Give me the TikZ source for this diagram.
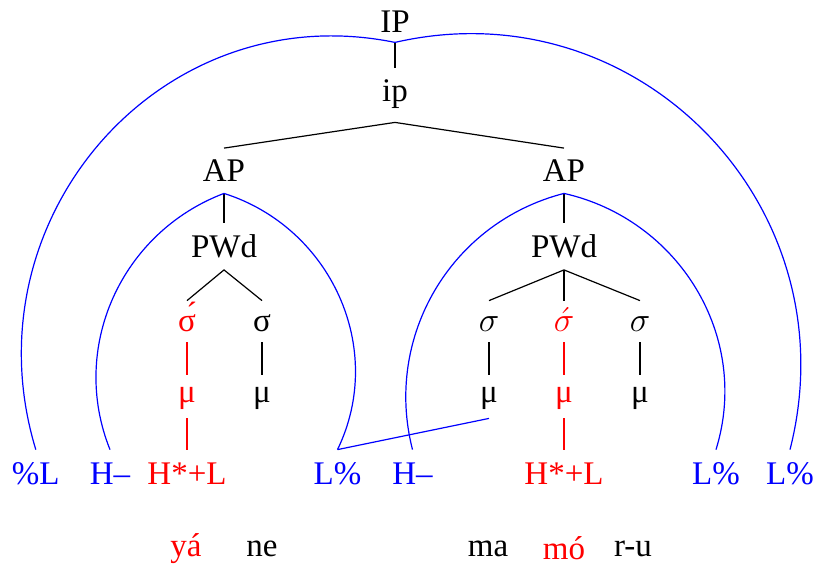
\documentclass[tikz,border=0pt]{standalone}
\usepackage{fontspec}
\setmainfont{Liberation Serif}
\definecolor{tblue}{RGB}{0,0,255}
\definecolor{tred}{RGB}{255,0,0}
\tikzset{
  lab/.style={font=\fontsize{16.5}{19}\selectfont, inner sep=0pt, anchor=base},
  rowIP/.style={lab, text height=12pt, text depth=5pt},
  rowip/.style={lab, text height=16.5pt, text depth=10.5pt},
  rowAP/.style={lab, text height=16.5pt, text depth=5.75pt},
  rowPW/.style={lab, text height=17.25pt, text depth=6pt},
  rowsig/.style={lab, text height=15pt, text depth=5.5pt},
  rowmu/.style={lab, text height=13.5pt, text depth=8pt},
  rowtone/.style={lab, text height=17pt, text depth=4pt},
  roww/.style={lab},
  tree/.style={line width=0.6pt, black},
  redl/.style={line width=0.6pt, tred},
  arcl/.style={line width=0.6pt, tblue},
}
\begin{document}
\begin{tikzpicture}[x=0.5pt,y=-0.5pt]
\useasboundingbox (0,0) rectangle (814,564);
% tree nodes
\node[rowIP] (IP) at (395,32) {IP};
\node[rowip] (ip) at (395,101) {ip};
\node[rowAP] (APl) at (224,181.5) {AP};
\node[rowAP] (APr) at (564,181.5) {AP};
\node[rowPW] (PWl) at (224,257.5) {PWd};
\node[rowPW] (PWr) at (564,257.5) {PWd};
\node[rowsig, text=tred] (s1) at (187,331) {σ́};
\node[rowsig] (s2) at (262,331) {σ};
\node[rowsig] (s3) at (489,331) {$\sigma$};
\node[rowsig, text=tred] (s4) at (564,331) {$\acute{\sigma}$};
\node[rowsig] (s5) at (640,331) {$\sigma$};
\node[rowmu, text=tred] (m1) at (187,402) {μ};
\node[rowmu] (m2) at (262,402) {μ};
\node[rowmu] (m3) at (489,402) {μ};
\node[rowmu, text=tred] (m4) at (564,402) {μ};
\node[rowmu] (m5) at (640,402) {μ};
% tones
\node[rowtone, text=tblue] (pL) at (35.8,484) {\%L};
\node[rowtone, text=tblue] (Hl) at (110,484) {H–};
\node[rowtone, text=tred] (HLl) at (187,484) {H*+L};
\node[rowtone, text=tblue] (Ll) at (337.5,484) {L\%};
\node[rowtone, text=tblue] (Hr) at (412.5,484) {H–};
\node[rowtone, text=tred] (HLr) at (564,484) {H*+L};
\node[rowtone, text=tblue] (Lr) at (716,484) {L\%};
\node[rowtone, text=tblue] (Lp) at (790,484) {L\%};
% words
\node[roww, text=tred] (w1) at (186,556) {yá};
\node[roww] (w2) at (262,556) {ne};
\node[roww] (w3) at (488,556) {ma};
\node[roww, text=tred] (w4) at (564,559) {mó};
\node[roww] (w5) at (633,556) {r-u};
% tree lines
\draw[tree] (IP.south) -- (ip.north);
\draw[tree] (APl.north) -- (ip.south) -- (APr.north);
\draw[tree] (APl.south) -- (PWl.north);
\draw[tree] (APr.south) -- (PWr.north);
\draw[tree] (s1.north) -- (PWl.south) -- (s2.north);
\draw[tree] (s3.north) -- (PWr.south) -- (s5.north);
\draw[tree] (PWr.south) -- (s4.north);
\draw[redl] (s1.south) -- (m1.north);
\draw[tree] (s2.south) -- (m2.north);
\draw[tree] (s3.south) -- (m3.north);
\draw[redl] (s4.south) -- (m4.north);
\draw[tree] (s5.south) -- (m5.north);
\draw[redl] (m1.south) -- (HLl.north);
\draw[redl] (m4.south) -- (HLr.north);
% blue associations
\draw[arcl] (IP.south) .. controls +(-235,-48) and +(-70,-230) .. (pL.north);
\draw[arcl] (IP.south) .. controls +(243,-56) and +(62,-243) .. (Lp.north);
\draw[arcl] (APl.south) .. controls +(-103,39) and +(-41,-102) .. (Hl.north);
\draw[arcl] (APl.south) .. controls +(107,34) and +(49,-101) .. (Ll.north);
\draw[arcl] (APr.south) .. controls +(-113,29) and +(-29,-113) .. (Hr.north);
\draw[arcl] (APr.south) .. controls +(115,26) and +(35,-113) .. (Lr.north);
\draw[arcl] (Ll.north) -- (m3.south);
\end{tikzpicture}
\end{document}
